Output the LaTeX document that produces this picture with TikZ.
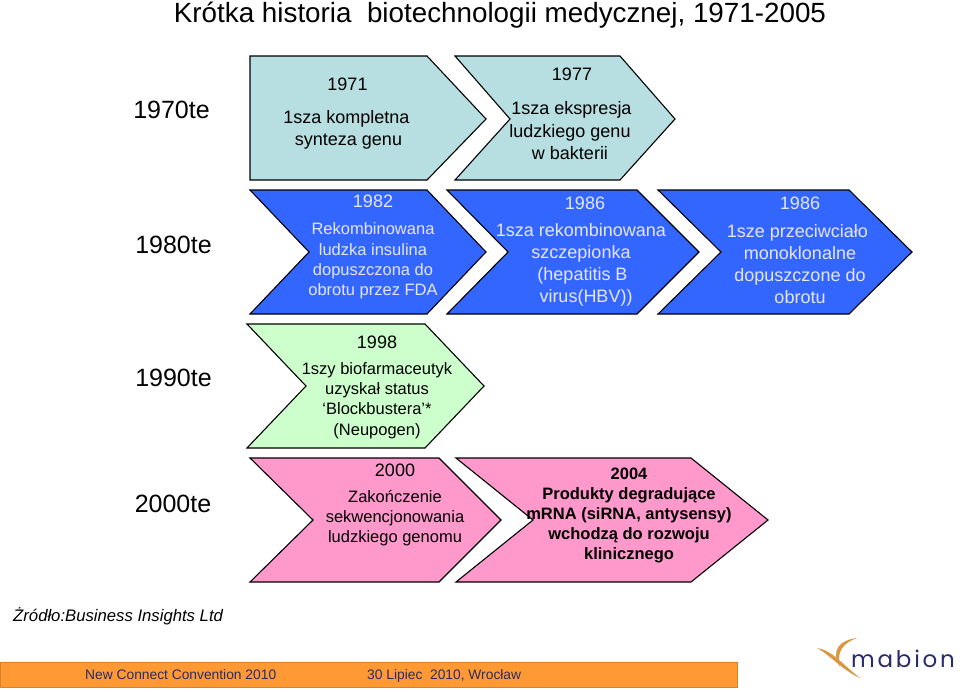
\documentclass[tikz,border=0pt]{standalone}
\usepackage{fontspec}
\setmainfont{Liberation Sans}
\newfontfamily\logofont[LetterSpace=12]{Poppins}
\usetikzlibrary{positioning}
\definecolor{tealfill}{HTML}{B7DEE0}
\definecolor{bluefill}{HTML}{3366FF}
\definecolor{greenfill}{HTML}{CCFFCC}
\definecolor{pinkfill}{HTML}{FF99CC}
\definecolor{barfill}{HTML}{FF9933}
\definecolor{footcol}{HTML}{2B2B66}
\definecolor{logocol}{HTML}{2B2A6B}
\definecolor{swoosh}{HTML}{D9983F}
\tikzset{
  chevron/.style={draw=black,line width=1.1pt,line join=miter},
  decade/.style={font=\fontsize{25}{25}\selectfont,anchor=center},
  boxtext/.style={align=center,font=\fontsize{18}{22.5}\selectfont,anchor=center,inner sep=0pt},
  smalltext/.style={boxtext,font=\fontsize{16.5}{20.3}\selectfont},
  bluetext/.style={text=white!90!blue},
  foottext/.style={anchor=base west,inner sep=0pt,text=footcol,font=\fontsize{13.8}{18}\selectfont},
}
\begin{document}
\begin{tikzpicture}[x=1pt,y=-1pt]
\useasboundingbox (0,0) rectangle (960,691);
\node[anchor=base,inner sep=0pt,font=\fontsize{27.8}{28}\selectfont] (title) at (500,22) {Krótka historia\ \ biotechnologii medycznej, 1971-2005};
% decades
\node[decade] (d70) at (171.5,110) {1970te};
\node[decade] (d80) at (173.5,245) {1980te};
\node[decade] (d90) at (173.5,378) {1990te};
\node[decade] (d00) at (173,504) {2000te};
% row 1970
\draw[chevron,fill=tealfill] (250,56)--(427,56)--(486,119)--(427,180)--(250,180)--cycle;
\draw[chevron,fill=tealfill] (455,56)--(620,56)--(675,119)--(620,180)--(455,180)--(510,119)--cycle;
\node[boxtext] (a71) at (347.5,84) {1971};
\node[boxtext] (b71) at (346.5,130) {1sza kompletna\\\hspace*{4pt}synteza genu};
\node[boxtext] (a77) at (572,74) {1977};
\node[boxtext] (b77) at (570,131) {\hspace*{3pt}1sza ekspresja\\ludzkiego genu\\w bakterii};
% row 1980
\draw[chevron,fill=bluefill] (250,190)--(427,190)--(486,252)--(427,314)--(250,314)--(309,252)--cycle;
\draw[chevron,fill=bluefill] (447,190)--(637,190)--(699,252)--(637,314)--(447,314)--(508,252)--cycle;
\draw[chevron,fill=bluefill] (658,190)--(849,190)--(912,252)--(849,314)--(658,314)--(721,252)--cycle;
\node[boxtext,bluetext] (a82) at (373,201) {1982};
\node[smalltext,bluetext] (b82) at (373,261) {Rekombinowana\\ludzka insulina\\dopuszczona do\\obrotu przez FDA};
\node[boxtext,bluetext] (a86) at (585,203) {1986};
\node[boxtext,bluetext,font=\fontsize{18}{22}\selectfont] (b86) at (581,265) {1sza rekombinowana\\szczepionka\\\hspace*{3pt}(hepatitis B\\\hspace*{10pt}virus(HBV))};
\node[boxtext,bluetext] (c86) at (800,203) {1986};
\node[boxtext,bluetext,font=\fontsize{18}{22}\selectfont] (d86) at (800,264.5) {1sze przeciwciało\hspace*{5pt}\\monoklonalne\\dopuszczone do\\obrotu};
% row 1990
\draw[chevron,fill=greenfill] (247,324)--(425,324)--(484,386)--(425,448)--(247,448)--(306,386)--cycle;
\node[boxtext] (a98) at (377,342) {1998};
\node[smalltext] (b98) at (377,400.5) {1szy biofarmaceutyk\\uzyskał status\\`Blockbustera'*\\(Neupogen)};
% row 2000
\draw[chevron,fill=pinkfill] (250,458)--(439,458)--(501,520)--(439,582)--(250,582)--(313,520)--cycle;
\draw[chevron,fill=pinkfill] (456,458)--(691,458)--(768,520)--(691,582)--(456,582)--(533,520)--cycle;
\node[boxtext] (a00) at (395,470) {2000};
\node[smalltext] (b00) at (395,518) {Zakończenie\\sekwencjonowania\\ludzkiego genomu};
\node[smalltext,font=\bfseries\fontsize{16.5}{20}\selectfont] (b04) at (629,515.5) {2004\\Produkty degradujące\\mRNA (siRNA, antysensy)\\wchodzą do rozwoju\\klinicznego};
% source and footer
\node[anchor=west,inner sep=0pt,font=\itshape\fontsize{16.7}{20}\selectfont] (src) at (13,616) {Żródło:Business Insights Ltd};
\draw[draw=barfill!85!black,fill=barfill] (0,662) rectangle (737,687);
\node[foottext] (conv) at (85,679) {New Connect Convention 2010};
\node[foottext] (date) at (367,679) {30 Lipiec\ \ 2010, Wrocław};
% logo
\node[anchor=base west,inner sep=0pt,text=logocol,font=\logofont\fontsize{23}{23}\selectfont] (logo) at (851,667) {mabion};
\fill[swoosh] (817,648) .. controls (832,650) and (843,665) .. (860,678) .. controls (842,670) and (830,655) .. cycle;
\fill[swoosh] (857,638) .. controls (840,640) and (830,650) .. (840,667) .. controls (836,652) and (843,643) .. cycle;
\end{tikzpicture}
\end{document}
